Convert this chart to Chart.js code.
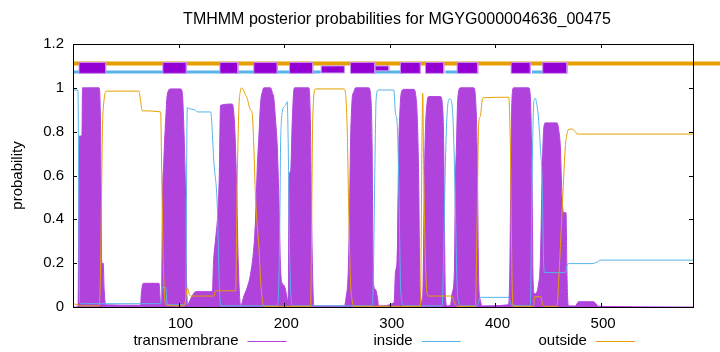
<!DOCTYPE html>
<html>
<head>
<meta charset="utf-8">
<script src="https://cdn.jsdelivr.net/npm/chart.js@4.4.0/dist/chart.umd.min.js"></script>
<style>
  body { margin: 0; background: #fff; }
  #chart { display: block; }
</style>
</head>
<body>
<canvas id="chart" width="720" height="352"></canvas>
<script>
// sequence position, posterior probability
const transmembrane = [
  [1, 0], [4.8, 0], [5.5, 0.5], [6, 0.78], [8.5, 0.78], [9, 1.0], [24.6, 1.0], [26, 0.85], [26.8, 0.4],
  [27.2, 0.2], [28.6, 0.2], [29.5, 0.08], [31, 0.01], [64, 0.008], [64.7, 0.06], [66.6, 0.108],
  [81.4, 0.108], [83, 0.02], [84, 0.05], [84.6, 0.44], [86, 0.67], [87.7, 0.85], [89.3, 0.97],
  [92.4, 0.995], [101.9, 0.995], [103.5, 0.975], [105, 0.81], [106.6, 0.5], [107.5, 0.12], [108.8, 0.01],
  [109.8, 0.02], [114, 0.06], [116, 0.07], [132, 0.07], [133, 0.2], [135, 0.31], [137, 0.42],
  [138.5, 0.6], [139.7, 0.92], [150.8, 0.926], [153.3, 0.8], [154.9, 0.55], [156.5, 0.2], [158.7, 0.005],
  [161.8, 0.05], [165, 0.09], [168.1, 0.15], [171.2, 0.27], [172.8, 0.4], [174.5, 0.64], [176, 0.78],
  [177.6, 0.93], [179.2, 0.98], [180.7, 1.0], [187, 1.0], [188.6, 0.98], [190.2, 0.95], [191.8, 0.85],
  [193.4, 0.73], [194.9, 0.5], [196.5, 0.18], [198.1, 0.108], [199.5, 0.1], [201.2, 0.08], [203.1, 0.03],
  [204, 0.1], [204.4, 0.58], [206, 0.62], [207.6, 0.85], [209.1, 0.99], [210, 1.0], [223.3, 1.0],
  [224.9, 0.81], [225.8, 0.44], [227.1, 0.1], [228, 0.005], [257, 0.005], [258.7, 0.05], [260.5, 0.15],
  [261.8, 0.43], [262.7, 0.73], [264.3, 0.95], [265.8, 0.98], [267.5, 1.0], [280, 1.0], [281.6, 0.975],
  [283.2, 0.73], [284.2, 0.12], [286.4, 0.08], [288, 0.05], [289.5, 0.005], [304, 0.02], [305.3, 0.16],
  [306.9, 0.22], [308.4, 0.73], [309.4, 0.88], [310.7, 0.975], [313.2, 0.993], [322.6, 0.993],
  [324.2, 0.975], [325.8, 0.88], [327.3, 0.58], [328.3, 0.12], [328.9, 0.06], [330.5, 0.02],
  [331.5, 0.12], [332.7, 0.58], [333.7, 0.81], [335.3, 0.937], [336.8, 0.96], [347.9, 0.96],
  [349.5, 0.937], [351, 0.73], [351.9, 0.27], [352.6, 0.05], [354.2, 0.005], [357.5, 0.01],
  [358.9, 0.062], [361.1, 0.162], [362.1, 0.58], [363, 0.73], [364.3, 0.95], [366.8, 1.0], [379.4, 1.0],
  [381, 0.96], [382.6, 0.73], [384.1, 0.12], [385.7, 0.03], [387.3, 0.005], [412, 0.01], [413.4, 0.12],
  [414.8, 0.73], [415.7, 0.96], [417.2, 1.0], [431.4, 1.0], [433, 0.96], [434.6, 0.58], [435.6, 0.12],
  [437, 0.06], [440.9, 0.108], [442.5, 0.215], [444.1, 0.58], [445.6, 0.81], [447.2, 0.84], [458.3, 0.84],
  [459.8, 0.81], [461.4, 0.73], [463, 0.5], [464.5, 0.43], [466.8, 0.43], [467.5, 0.2], [468.3, 0.04],
  [469.3, 0.005], [475.6, 0.005], [478.7, 0.024], [492.9, 0.024], [497.6, 0.003], [587, 0]
];

const inside = [
  [1, 0.99], [4.7, 0.99], [5.5, 0.5], [6.2, 0.02], [10, 0.015], [83, 0.015], [84.6, 0.09], [87.7, 0.09],
  [89.3, 0.01], [106.6, 0.01], [108.2, 0.91], [109.8, 0.905], [115, 0.9], [118, 0.89], [130.3, 0.89],
  [133.4, 0.66], [136.6, 0.46], [138.5, 0.1], [140, 0.005], [193.4, 0.005], [194.9, 0.12], [195.9, 0.43],
  [196.5, 0.73], [197.2, 0.84], [198.1, 0.89], [201.2, 0.92], [202.8, 0.937], [203.8, 0.73], [205, 0.27],
  [206.9, 0.02], [208, 0.005], [283.2, 0.005], [284.2, 0.1], [285.7, 0.6], [287, 0.95], [288.9, 0.99],
  [303.7, 0.99], [305.3, 0.884], [306.9, 0.84], [308.4, 0.58], [310, 0.12], [311.6, 0.02], [313, 0.005],
  [349.5, 0.005], [351, 0.27], [352.6, 0.66], [354.2, 0.884], [356.7, 0.95], [358.9, 0.92], [360.5, 0.76],
  [362.1, 0.43], [363.7, 0.093], [365.2, 0.02], [366.5, 0.005], [382.6, 0.005], [385.7, 0.044],
  [412.5, 0.044], [414.8, 0.01], [433, 0.005], [434.6, 0.58], [436.2, 0.93], [437.7, 0.952],
  [439.3, 0.92], [440.9, 0.85], [442.5, 0.73], [444.1, 0.58], [445.6, 0.2], [446.5, 0.157],
  [466.1, 0.157], [467.7, 0.19], [469.3, 0.198], [491.4, 0.198], [496.1, 0.205], [499.2, 0.214], [587, 0.214]
];

const outside = [
  [1, 0.014], [5, 0.01], [8, 0.005], [24.6, 0.005], [26, 0.15], [27, 0.5], [27.8, 0.79], [29.3, 0.94],
  [31.9, 0.985], [62.5, 0.985], [64, 0.94], [65.6, 0.895], [83, 0.89], [84, 0.6], [84.6, 0.44],
  [85.5, 0.2], [87.7, 0.01], [105, 0.005], [106.5, 0.03], [108.2, 0.087], [110, 0.06], [111.4, 0.05],
  [133.4, 0.05], [135, 0.074], [154, 0.074], [155.5, 0.58], [157.1, 0.91], [158.7, 0.99], [159.6, 1.0],
  [163.4, 0.967], [165, 0.952], [166.5, 0.921], [168.1, 0.899], [169.7, 0.883], [171.2, 0.731],
  [172.8, 0.503], [174.5, 0.367], [176, 0.276], [177.6, 0.123], [179.2, 0.032], [180.7, 0.003],
  [224.9, 0.003], [227.1, 0.88], [229.6, 0.995], [256.4, 0.995], [258, 0.975], [259.6, 0.81],
  [261.1, 0.43], [262.7, 0.12], [264.3, 0.03], [265.8, 0.003], [328.9, 0.003], [330.5, 0.8],
  [331.1, 0.975], [332.1, 0.6], [333.7, 0.2], [335.3, 0.06], [336.8, 0.05], [358.9, 0.05],
  [360.5, 0.03], [363.7, 0.003], [381, 0.003], [382.6, 0.4], [384.1, 0.84], [385.7, 0.87], [387.3, 0.94],
  [388.8, 0.955], [412.5, 0.957], [414.1, 0.73], [415.7, 0.12], [416.6, 0.003], [436, 0.003],
  [437, 0.047], [443, 0.047], [444.5, 0.01], [446, 0.003], [458.3, 0.003], [459.8, 0.12], [463, 0.43],
  [466.1, 0.73], [467.7, 0.79], [468.7, 0.808], [472.5, 0.812], [475.6, 0.8], [477.2, 0.789], [587, 0.789]
];

// predicted topology drawn above the curves
const topOutside = [[0, 613]];
const topInside = [[0, 234.5], [285.7, 313], [352.6, 363.6], [434.6, 445]];
const tmHelices = [
  [5.7, 30.9], [85.1, 107.3], [139.1, 156.1], [171.2, 193.4], [205, 227], [262.7, 285.7],
  [310, 328.9], [333.7, 351], [363.7, 383.2], [414.8, 433], [444.7, 467.7]
];
const tmHelicesLow = [[235, 257]];
const tmHelicesThin = [[285.7, 299]];

const xTicks = [100, 200, 300, 400, 500];
const yTicks = [0, 0.2, 0.4, 0.6, 0.8, 1, 1.2];
const seqLength = 587;

const TM_COLOR = "#b043dc";
const BOX_COLOR = "#9400d3";
const IN_COLOR = "#56b4e9";
const OUT_COLOR = "#e69f00";
const FONT = '"Liberation Sans", Arial, sans-serif';

const toPoints = (arr) => arr.map(([x, y]) => ({ x: x, y: y }));

function segmentLine(segs, level) {
  const pts = [];
  segs.forEach(([a, b], i) => {
    if (i > 0) pts.push({ x: a - 0.01, y: null });
    pts.push({ x: a, y: level }, { x: b, y: level });
  });
  return pts;
}

function boxDatasets(segs, lo, hi) {
  return segs.map(([a, b]) => ({
    data: [{ x: a, y: lo }, { x: a, y: hi }, { x: b, y: hi }, { x: b, y: lo }, { x: a, y: lo }],
    borderColor: "#c98ff0",
    backgroundColor: BOX_COLOR,
    borderWidth: 1,
    fill: "shape",
    pointRadius: 0,
    order: 1,
  }));
}

const lineBase = { pointRadius: 0, tension: 0, fill: false };
const curveBase = { pointRadius: 0, fill: false, cubicInterpolationMode: "monotone" };

const frame = {
  id: "frame",
  afterDraw(chart) {
    const { ctx, chartArea: a, scales } = chart;
    const x = scales.x, y = scales.y;
    ctx.save();
    ctx.strokeStyle = "#000";
    ctx.lineWidth = 1;
    ctx.beginPath();
    yTicks.forEach((v) => {
      const py = Math.round(y.getPixelForValue(v)) + 0.5;
      ctx.moveTo(a.left, py); ctx.lineTo(a.left + 4, py);
      ctx.moveTo(a.right, py); ctx.lineTo(a.right - 4, py);
    });
    xTicks.forEach((v) => {
      const px = Math.round(x.getPixelForValue(v)) + 0.5;
      ctx.moveTo(px, a.bottom); ctx.lineTo(px, a.bottom - 4);
      ctx.moveTo(px, a.top); ctx.lineTo(px, a.top + 4);
    });
    ctx.stroke();
    ctx.strokeRect(a.left + 0.5, a.top + 0.5, a.right - a.left, a.bottom - a.top);

    ctx.fillStyle = "#000";
    ctx.textBaseline = "middle";
    ctx.textAlign = "center";
    ctx.font = "16px " + FONT;
    ctx.fillText("TMHMM posterior probabilities for MGYG000004636_00475", 397, 20);

    ctx.font = "15px " + FONT;
    ctx.save();
    ctx.translate(17.5, (a.top + a.bottom) / 2);
    ctx.rotate(-Math.PI / 2);
    ctx.fillText("probability", 0, 0);
    ctx.restore();

    // key below the plot: label then sample line
    const items = [
      ["transmembrane", TM_COLOR],
      ["inside", IN_COLOR],
      ["outside", OUT_COLOR],
    ];
    ctx.textAlign = "right";
    items.forEach(([label, color], i) => {
      const right = 238.5 + i * 174.2;
      ctx.fillStyle = "#000";
      ctx.fillText(label, right, 341);
      ctx.strokeStyle = color;
      ctx.beginPath();
      ctx.moveTo(right + 9, 341.5);
      ctx.lineTo(right + 48, 341.5);
      ctx.stroke();
    });
    ctx.restore();
  },
};

new Chart(document.getElementById("chart"), {
  type: "line",
  data: {
    datasets: [
      ...boxDatasets(tmHelices, 1.066, 1.116),
      ...boxDatasets(tmHelicesLow, 1.068, 1.1),
      ...boxDatasets(tmHelicesThin, 1.078, 1.1),
      { ...lineBase, data: segmentLine(topInside, 1.072), borderColor: IN_COLOR, borderWidth: 3, order: 2 },
      { ...lineBase, data: segmentLine(topOutside, 1.111), borderColor: OUT_COLOR, borderWidth: 4, order: 3, clip: false },
      { ...curveBase, label: "outside", data: toPoints(outside), borderColor: OUT_COLOR, borderWidth: 1, order: 4 },
      { ...curveBase, label: "inside", data: toPoints(inside), borderColor: IN_COLOR, borderWidth: 1, order: 5 },
      {
        ...curveBase,
        label: "transmembrane",
        data: toPoints(transmembrane),
        borderColor: TM_COLOR,
        backgroundColor: TM_COLOR,
        borderWidth: 1,
        fill: "origin",
        order: 6,
      },
    ],
  },
  options: {
    responsive: false,
    animation: false,
    devicePixelRatio: 1,
    layout: { padding: { top: 44, right: 27, left: 0, bottom: 0 } },
    plugins: { legend: { display: false }, title: { display: false }, tooltip: { enabled: false } },
    scales: {
      x: {
        type: "linear",
        min: 0,
        max: seqLength,
        grid: { display: false, drawTicks: false },
        border: { display: false },
        afterFit: (s) => { s.height = 45; },
        afterBuildTicks: (s) => { s.ticks = xTicks.map((v) => ({ value: v })); },
        ticks: { color: "#000", padding: 8, maxRotation: 0, labelOffset: 2, font: { family: FONT, size: 15 } },
      },
      y: {
        min: 0,
        max: 1.2,
        grid: { display: false, drawTicks: false },
        border: { display: false },
        afterFit: (s) => { s.width = 73; },
        afterBuildTicks: (s) => { s.ticks = yTicks.map((v) => ({ value: v })); },
        ticks: {
          color: "#000",
          padding: 9,
          font: { family: FONT, size: 15 },
          callback: (v) => String(Math.round(v * 10) / 10),
        },
      },
    },
  },
  plugins: [frame],
});
</script>
</body>
</html>
